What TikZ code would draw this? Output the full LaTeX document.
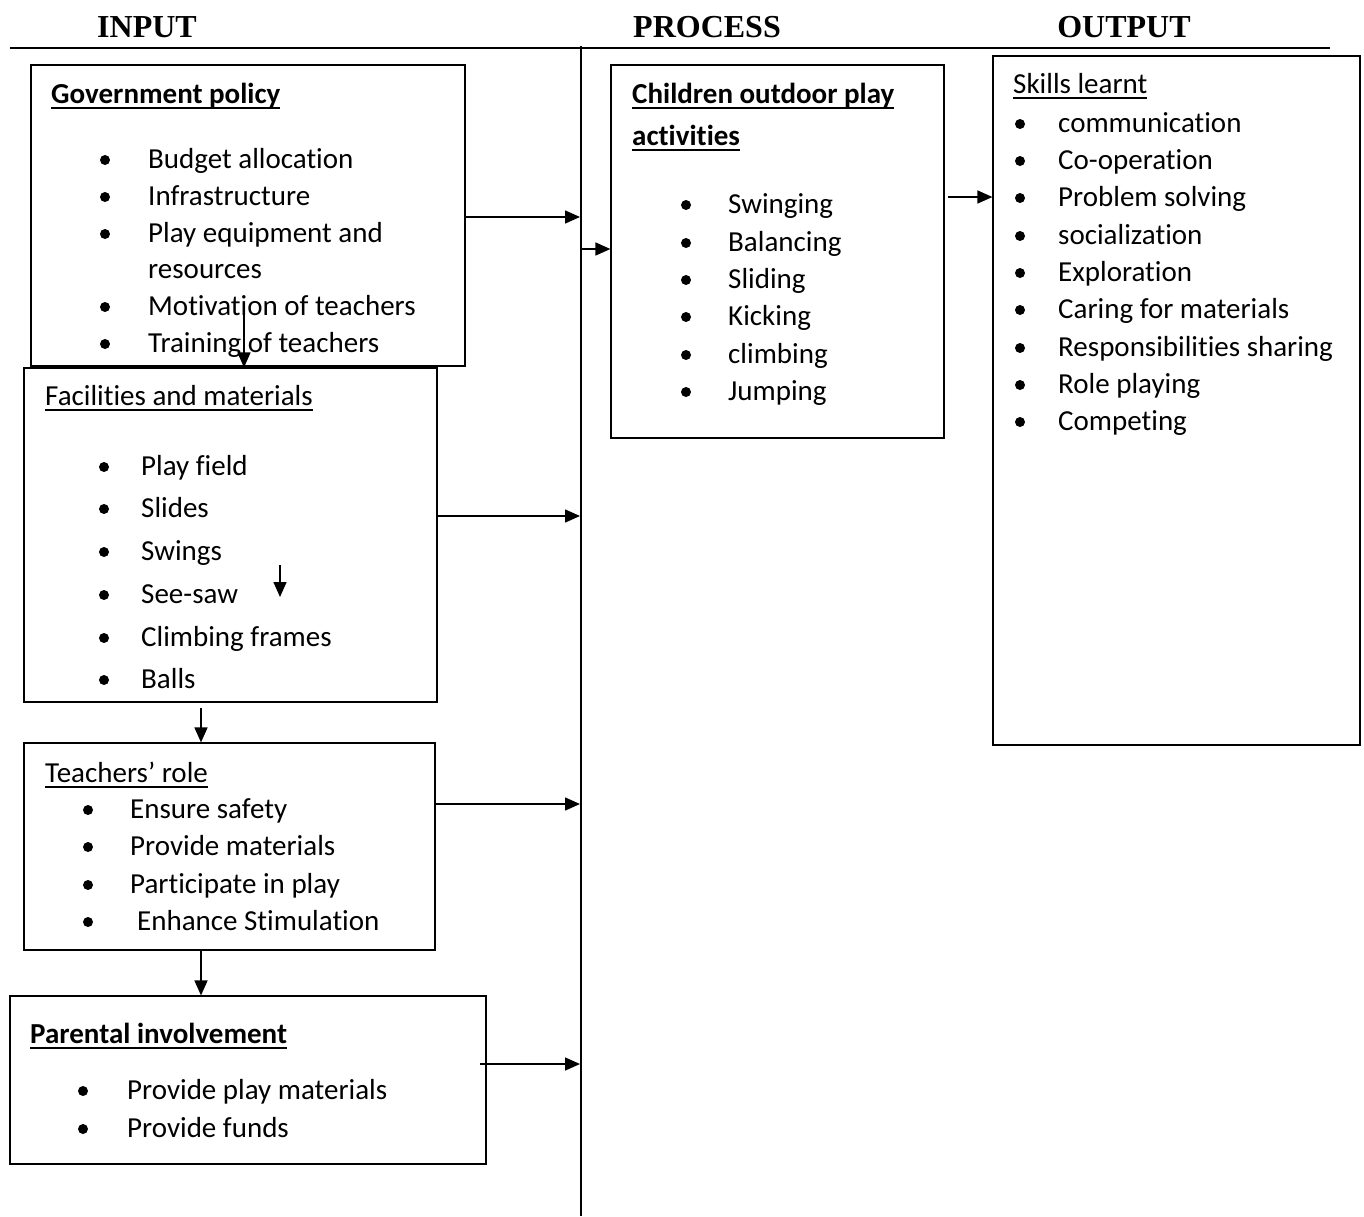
\documentclass[tikz,border=0pt]{standalone}
\usepackage{fontspec}
\setmainfont{Carlito}[Ligatures=NoCommon]
\newfontfamily\hdrfont{Liberation Serif}
\usetikzlibrary{arrows.meta}

\newcommand{\uln}[2][1.9pt]{\setbox0\hbox{#2}\rlap{\rule[-6.2pt]{\wd0}{#1}}\box0}

\begin{document}
\begin{tikzpicture}[
  x=1pt, y=-1pt,
  box/.style={draw, line width=1.2pt, inner sep=0pt},
  txt/.style={anchor=base west, inner sep=0pt, font=\fontsize{29}{37}\selectfont},
  hdr/.style={anchor=base, inner sep=0pt, font=\hdrfont\bfseries\fontsize{32}{38}\selectfont},
  arr/.style={line width=1.5pt, -{Triangle[length=15pt,width=13pt]}},
]
\useasboundingbox (0,0) rectangle (1364,1216);

% headings and the two rules
\node [hdr] (hin) at (147,37) {INPUT};
\node [hdr] (hpr) at (707,37) {PROCESS};
\node [hdr] (hout) at (1124,37) {OUTPUT};
\coordinate (ru-l) at (10,48);
\coordinate (ru-r) at (1330,48);
\draw [line width=1.8pt] (ru-l) -- (ru-r);
\coordinate (sp-t) at (581,46);
\coordinate (sp-b) at (581,1216);
\draw [line width=2pt] (sp-t) -- (sp-b);

% boxes
\node [box, minimum width=434pt, minimum height=301pt] (gov) at (248,215.5) {};
\node [box, minimum width=413pt, minimum height=334pt] (fac) at (230.5,535) {};
\node [box, minimum width=411pt, minimum height=207pt] (tch) at (229.5,846.5) {};
\node [box, minimum width=476pt, minimum height=168pt] (par) at (248,1080) {};
\node [box, minimum width=333pt, minimum height=373pt] (proc) at (777.5,251.5) {};
\node [box, minimum width=367pt, minimum height=689pt] (skl) at (1176.5,400.5) {};

% government policy
\node [txt] (gov-t) at (51,103) {\bfseries\uln[2.6pt]{Government policy}};
\foreach \y/\lbl [count=\i] in {168/Budget allocation, 205/Infrastructure,
    242/Play equipment and, 315/Motivation of teachers, 352/Training of teachers} {
  \fill (105,\y-8) circle [radius=5pt];
  \node [txt] (gov-\i) at (148,\y) {\lbl};
}
\node [txt] (gov-r) at (148,278) {resources};

% facilities and materials
\node [txt] (fac-t) at (45,405) {\uln{Facilities and materials}};
\foreach \y/\lbl [count=\i] in {475/Play field, 517/Slides, 560/Swings,
    603/See-saw, 646/Climbing frames, 688/Balls} {
  \fill (104,\y-8) circle [radius=5pt];
  \node [txt] (fac-\i) at (141,\y) {\lbl};
}

% teachers
\node [txt] (tch-t) at (45,782) {\uln{Teachers’ role}};
\foreach \y/\x/\lbl [count=\i] in {818/130/Ensure safety, 855/130/Provide materials,
    893/130/Participate in play, 930/137/Enhance Stimulation} {
  \fill (88,\y-8) circle [radius=5pt];
  \node [txt] (tch-\i) at (\x,\y) {\lbl};
}

% parents
\node [txt] (par-t) at (30,1043) {\bfseries\uln[2.6pt]{Parental involvement}};
\foreach \y/\lbl [count=\i] in {1099/Provide play materials, 1137/Provide funds} {
  \fill (83,\y-8) circle [radius=5pt];
  \node [txt] (par-\i) at (127,\y) {\lbl};
}

% process
\node [txt] (proc-t1) at (632,103) {\bfseries\uln[2.6pt]{Children outdoor play}};
\node [txt] (proc-t2) at (632,145) {\bfseries\uln[2.6pt]{activities}};
\foreach \y/\lbl [count=\i] in {213/Swinging, 251/Balancing, 288/Sliding,
    325/Kicking, 363/climbing, 400/Jumping} {
  \fill (686,\y-8) circle [radius=5pt];
  \node [txt] (proc-\i) at (728,\y) {\lbl};
}

% output
\node [txt] (skl-t) at (1013,93) {\uln{Skills learnt}};
\foreach \y/\lbl [count=\i] in {132/communication, 169/Co-operation, 206/Problem solving,
    244/socialization, 281/Exploration, 318/Caring for materials,
    356/Responsibilities sharing, 393/Role playing, 430/Competing} {
  \fill (1020,\y-8) circle [radius=5pt];
  \node [txt] (skl-\i) at (1058,\y) {\lbl};
}

% arrows
\coordinate (s1) at (580,217);
\coordinate (s2) at (580,516);
\coordinate (s3) at (580,804);
\coordinate (s4) at (580,1064);
\coordinate (p4) at (480,1064);
\draw [arr] (gov.east |- s1) -- (s1);
\draw [arr] (fac.east |- s2) -- (s2);
\draw [arr] (tch.east |- s3) -- (s3);
\draw [arr] (p4) -- (s4);

\coordinate (s0) at (581,249);
\draw [arr] (s0) -- (proc.west |- s0);
\coordinate (k0) at (948,197);
\draw [arr] (k0) -- (skl.west |- k0);

\coordinate (g0) at (244,312);
\draw [arr] (g0) -- (g0 |- fac.north);
\coordinate (f0) at (280,565);
\coordinate (f1) at (280,597);
\draw [arr] (f0) -- (f1);
\coordinate (t0) at (201,708);
\draw [arr] (t0) -- (t0 |- tch.north);
\draw [arr] (t0 |- tch.south) -- (t0 |- par.north);

\end{tikzpicture}
\end{document}
